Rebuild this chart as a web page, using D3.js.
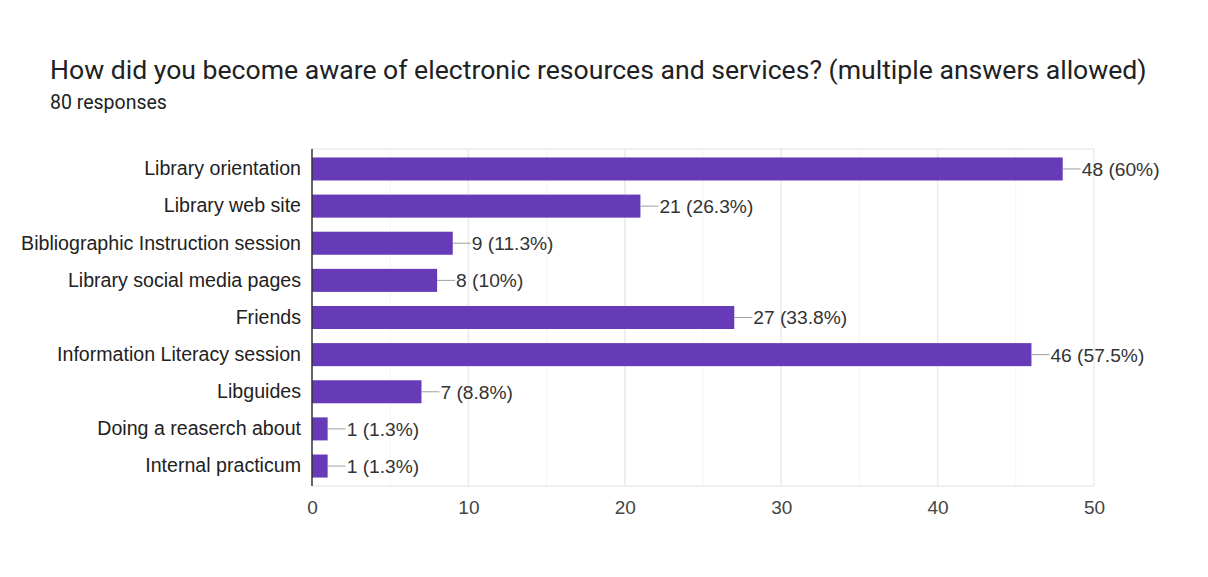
<!DOCTYPE html>
<html>
<head>
<meta charset="utf-8">
<script src="https://cdn.jsdelivr.net/npm/d3@7"></script>
<style>
  html, body { margin: 0; padding: 0; background: #fff; }
  svg { display: block; font-family: "Liberation Sans", Arial, sans-serif; }
</style>
</head>
<body>
<svg id="chart" width="1208" height="577"></svg>
<script>
const categories = [
  "Library orientation",
  "Library web site",
  "Bibliographic Instruction session",
  "Library social media pages",
  "Friends",
  "Information Literacy session",
  "Libguides",
  "Doing a reaserch about",
  "Internal practicum"
];
const counts = [48, 21, 9, 8, 27, 46, 7, 1, 1];
const percents = ["60%", "26.3%", "11.3%", "10%", "33.8%", "57.5%", "8.8%", "1.3%", "1.3%"];
const tickValues = [0, 10, 20, 30, 40, 50];
const minorTicks = [5, 15, 25, 35, 45];

const title = "How did you become aware of electronic resources and services? (multiple answers allowed)";
const subtitle = "80 responses";

const svg = d3.select("#chart");
const plot = { left: 312, right: 1094, top: 149, bottom: 486 };
const labelFont = "\"Liberation Sans\", Arial, sans-serif";

const x = d3.scaleLinear().domain([0, 50]).range([plot.left, plot.right]);
const y = d3.scaleBand().domain(categories).range([150.4, 484.6]).paddingInner(0.38).paddingOuter(0.19);

svg.append("text").attr("x", 50).attr("y", 79)
  .attr("font-family", "Roboto, sans-serif")
  .attr("font-size", 26.6).attr("fill", "#202124").text(title);
svg.append("text").attr("x", 50).attr("y", 109)
  .attr("font-family", "Roboto, sans-serif")
  .attr("font-size", 19.5).attr("fill", "#202124").text(subtitle);

// minor gridlines
svg.append("g").selectAll("line").data(minorTicks).join("line")
  .attr("x1", d => x(d)).attr("x2", d => x(d))
  .attr("y1", plot.top).attr("y2", plot.bottom)
  .attr("stroke", "#f4f4f4").attr("stroke-width", 1);

// major gridlines
svg.append("g").selectAll("line").data(tickValues.slice(1)).join("line")
  .attr("x1", d => x(d)).attr("x2", d => x(d))
  .attr("y1", plot.top).attr("y2", plot.bottom)
  .attr("stroke", "#ebebeb").attr("stroke-width", 1.5);

// top and bottom frame
svg.append("line").attr("x1", plot.left).attr("x2", plot.right)
  .attr("y1", plot.top).attr("y2", plot.top).attr("stroke", "#ebebeb").attr("stroke-width", 1.5);
svg.append("line").attr("x1", plot.left).attr("x2", plot.right)
  .attr("y1", plot.bottom).attr("y2", plot.bottom).attr("stroke", "#ebebeb").attr("stroke-width", 1.5);

// bars
svg.append("g").selectAll("rect").data(categories).join("rect")
  .attr("x", x(0))
  .attr("y", d => y(d))
  .attr("width", (d, i) => x(counts[i]) - x(0))
  .attr("height", y.bandwidth())
  .attr("fill", "#673ab7");

// value connectors and labels
const lab = svg.append("g");
lab.selectAll("line").data(categories).join("line")
  .attr("x1", (d, i) => x(counts[i]))
  .attr("x2", (d, i) => x(counts[i]) + 18)
  .attr("y1", d => y(d) + y.bandwidth() / 2)
  .attr("y2", d => y(d) + y.bandwidth() / 2)
  .attr("stroke", "#9e9e9e").attr("stroke-width", 1);
lab.selectAll("text").data(categories).join("text")
  .attr("x", (d, i) => x(counts[i]) + 19)
  .attr("y", d => y(d) + y.bandwidth() / 2)
  .attr("dy", "0.36em")
  .attr("font-family", labelFont)
  .attr("font-size", 19.2).attr("fill", "#333")
  .text((d, i) => `${counts[i]} (${percents[i]})`);

// category axis
const yAxis = svg.append("g").attr("transform", `translate(${plot.left},0)`)
  .call(d3.axisLeft(y).tickSize(0).tickPadding(11));
yAxis.select(".domain").remove();
yAxis.selectAll("text").attr("font-size", 19.6).attr("fill", "#222").attr("font-family", labelFont);
svg.append("line").attr("x1", plot.left).attr("x2", plot.left)
  .attr("y1", plot.top).attr("y2", plot.bottom)
  .attr("stroke", "#333").attr("stroke-width", 1.5);

// value axis
const xAxis = svg.append("g").attr("transform", `translate(0,${plot.bottom})`)
  .call(d3.axisBottom(x).tickValues(tickValues).tickSize(0).tickPadding(15));
xAxis.select(".domain").remove();
xAxis.selectAll("text").attr("font-size", 19).attr("fill", "#444").attr("font-family", labelFont);
</script>
</body>
</html>
